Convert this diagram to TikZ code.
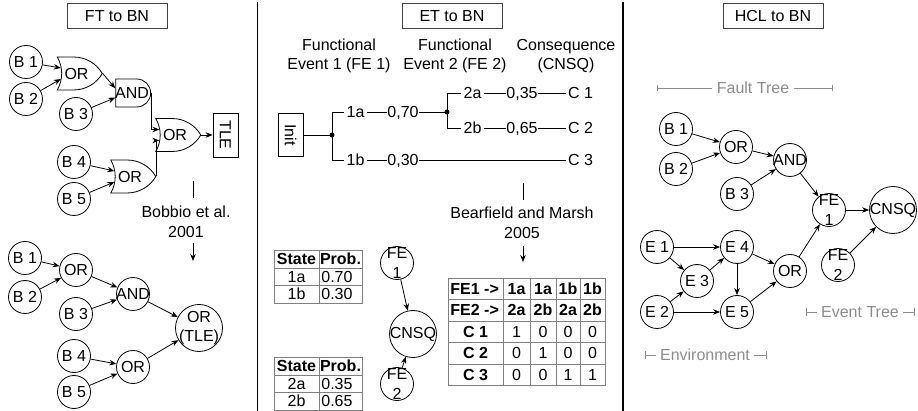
\documentclass[tikz,border=0pt]{standalone}
\usepackage{fontspec}
\setmainfont{Liberation Sans}
\usetikzlibrary{arrows.meta,shapes.gates.logic.US}
\newcommand\zw[1]{\makebox[0pt]{#1}}
\newcommand\mainsize{\fontsize{16}{19.5}\selectfont}
\begin{document}
\begin{tikzpicture}[x=1pt,y=-1pt,line width=0.8pt,
  font=\mainsize,
  arr/.style={-{Stealth[length=7pt,width=5.5pt]}},
  bn/.style={circle,draw,minimum size=33pt,inner sep=0pt},
  bnbig/.style={bn,minimum size=47pt},
  two/.style={align=center,inner sep=0pt,font=\mainsize},
  titlebox/.style={draw=black!75,minimum width=100pt,minimum height=25pt,inner sep=0pt},
  orgate/.style={or gate US,draw,logic gate inputs=nn,minimum width=45pt,minimum height=27pt,inner sep=0pt},
  andgate/.style={and gate US,draw,logic gate inputs=nn,minimum width=34pt,minimum height=28pt,inner sep=0pt},
  et/.style={inner xsep=2pt,inner ysep=0pt,text height=11pt,text depth=0pt},
  tb/.style={inner sep=0pt,text height=11pt,text depth=0pt},
  tbb/.style={tb,font=\mainsize\bfseries},
  tbl/.style={draw=black!50,line width=0.8pt},
  gr/.style={text=black!45,inner xsep=4pt,inner ysep=0pt,text height=11pt,text depth=0pt},
  grl/.style={draw=black!45,line width=0.8pt},
  dot/.style={circle,fill,inner sep=0pt,minimum size=5pt}]
\useasboundingbox (0,0) rectangle (918,411);

% separators
\coordinate (s1a) at (257.5,2); \coordinate (s1b) at (257.5,411);
\coordinate (s2a) at (623,2); \coordinate (s2b) at (623,411);
\draw[line width=1.2pt] (s1a) -- (s1b);
\draw[line width=1.2pt] (s2a) -- (s2b);

% titles
\node[titlebox] (t1) at (117,16) {FT to BN};
\node[titlebox] (t2) at (452,16) {ET to BN};
\node[titlebox] (t3) at (773,16) {HCL to BN};

% ---------------- FT panel (top)
\node[bn] (fb1) at (26,62) {B 1};
\node[bn] (fb2) at (26,99) {B 2};
\node[bn] (fb3) at (76,114) {B 3};
\node[bn] (fb4) at (74,162) {B 4};
\node[bn] (fb5) at (74,199) {B 5};
\node[orgate] (fo1) at (76.5,73.5) {\zw{OR}};
\node[andgate] (fand) at (132,93) {\zw{AND}};
\node[orgate] (fo2) at (175,135) {\zw{OR}};
\node[orgate] (fo3) at (130,176.5) {\zw{OR}};
\node[draw,rotate=-90,minimum width=44pt,minimum height=25pt,inner sep=0pt] (tle) at (225.5,135) {TLE};
\draw[arr] (fb1) -- (fo1.input 1);
\draw[arr] (fb2) -- (fo1.input 2);
\draw[arr] (fo1.output) -- (fand.input 1);
\draw[arr] (fb3) -- (fand.input 2);
\draw[arr] (fand.output) |- (fo2.input 1);
\draw[arr] (fo3.output) |- (fo2.input 2);
\draw[arr] (fo2.output) -- (tle);
\draw[arr] (fb4) -- (fo3.input 1);
\draw[arr] (fb5) -- (fo3.input 2);

% Bobbio
\node[two] (bob) at (186,222) {Bobbio et al.\\2001};
\coordinate (bt1) at (193,181); \coordinate (bt2) at (193,198);
\coordinate (ba1) at (193,243); \coordinate (ba2) at (193,261);
\draw (bt1) -- (bt2);
\draw[arr] (ba1) -- (ba2);

% ---------------- FT panel (bottom BN)
\node[bn] (gb1) at (25,258) {B 1};
\node[bn] (gb2) at (25,297) {B 2};
\node[bn] (gor1) at (76,270) {OR};
\node[bn] (gand) at (133,294) {\zw{AND}};
\node[bn] (gb3) at (76,314) {B 3};
\node[bnbig] (gtle) at (199,328) {};
\node[two] (gtlet) at (gtle) {OR\\(TLE)};
\node[bn] (gb4) at (74,356) {B 4};
\node[bn] (gor3) at (133,367) {OR};
\node[bn] (gb5) at (74,392) {B 5};
\draw[arr] (gb1) -- (gor1);
\draw[arr] (gb2) -- (gor1);
\draw[arr] (gor1) -- (gand);
\draw[arr] (gb3) -- (gand);
\draw[arr] (gand) -- (gtle);
\draw[arr] (gb4) -- (gor3);
\draw[arr] (gb5) -- (gor3);
\draw[arr] (gor3) -- (gtle);

% ---------------- ET panel
\node[two] (h1) at (339,56) {Functional\\Event 1 (FE 1)};
\node[two] (h2) at (455,56) {Functional\\Event 2 (FE 2)};
\node[two] (h3) at (566,56) {Consequence\\(CNSQ)};

\node[draw,rotate=-90,minimum width=43pt,minimum height=25pt,inner sep=0pt] (init) at (290.5,135) {Init};
\node[dot] (d1) at (332,135) {};
\node[et] (l1a) at (355.5,112) {1a};
\node[et,inner xsep=0.5pt] (p070) at (403,112) {0,70};
\node[dot] (d2) at (447,112) {};
\node[et] (l2a) at (472.5,93) {2a};
\node[et,inner xsep=0.5pt] (p035) at (522,93) {0,35};
\node[et] (c1) at (580.5,93) {C 1};
\node[et] (l2b) at (472.5,128) {2b};
\node[et,inner xsep=0.5pt] (p065) at (522,128) {0,65};
\node[et] (c2) at (580.5,128) {C 2};
\node[et] (l1b) at (355.5,160) {1b};
\node[et,inner xsep=0.5pt] (p030) at (403,160) {0,30};
\node[et] (c3) at (580.5,160) {C 3};
\draw (init) -- (d1.center);
\draw (d1.center) |- (l1a);
\draw (d1.center) |- (l1b);
\draw (l1a) -- (p070) -- (d2.center);
\draw (d2.center) |- (l2a);
\draw (d2.center) |- (l2b);
\draw (l2a) -- (p035) -- (c1);
\draw (l2b) -- (p065) -- (c2);
\draw (l1b) -- (p030) -- (c3);

% Bearfield
\node[two] (bear) at (522,223) {Bearfield and Marsh\\2005};
\coordinate (mt1) at (523,183); \coordinate (mt2) at (523,200);
\coordinate (ma1) at (523,246); \coordinate (ma2) at (523,262);
\draw (mt1) -- (mt2);
\draw[arr] (ma1) -- (ma2);

% table 1
\draw[tbl] (274,250.5) rectangle (362,303);
\draw[tbl] (274,268) -- (362,268);
\draw[tbl] (274,285.5) -- (362,285.5);
\draw[tbl] (319,250.5) -- (319,303);
\node[tbb] (ta1) at (296.5,259.25) {State};
\node[tbb] (ta2) at (340.5,259.25) {Prob.};
\node[tb] (ta3) at (296.5,276.75) {1a};
\node[tb,anchor=west] (ta4) at (321,276.75) {0.70};
\node[tb] (ta5) at (296.5,294.25) {1b};
\node[tb,anchor=west] (ta6) at (321,294.25) {0.30};

% table 2
\draw[tbl] (274,357.5) rectangle (362,410);
\draw[tbl] (274,375) -- (362,375);
\draw[tbl] (274,392.5) -- (362,392.5);
\draw[tbl] (319,357.5) -- (319,410);
\node[tbb] (tb1) at (296.5,366.25) {State};
\node[tbb] (tb2) at (340.5,366.25) {Prob.};
\node[tb] (tb3) at (296.5,383.75) {2a};
\node[tb,anchor=west] (tb4) at (321,383.75) {0.35};
\node[tb] (tb5) at (296.5,401.25) {2b};
\node[tb,anchor=west] (tb6) at (321,401.25) {0.65};

% ET BN
\node[bn] (efe1) at (397,263) {};
\node[two] (efe1t) at (efe1) {FE\\1};
\node[bnbig] (ecn) at (413,334) {\zw{CNSQ}};
\node[bn] (efe2) at (397,384) {};
\node[two] (efe2t) at (efe2) {FE\\2};
\draw[arr] (efe1) -- (ecn);
\draw[arr] (efe2) -- (ecn);

% big table
\draw[tbl] (448,278) rectangle (605,385.5);
\foreach \xx in {503,530,556,580} \draw[tbl] (\xx,278) -- (\xx,385.5);
\foreach \yy in {299.5,321,342.5,364} \draw[tbl] (448,\yy) -- (605,\yy);
\node[tbb,anchor=west] (r1) at (450,288.75) {FE1 ->};
\node[tbb,anchor=west] (r2) at (450,310.25) {FE2 ->};
\node[tbb] (r3) at (475.5,331.75) {C 1};
\node[tbb] (r4) at (475.5,353.25) {C 2};
\node[tbb] (r5) at (475.5,374.75) {C 3};
\foreach \t [count=\i] in {1a,1a,1b,1b} {
  \pgfmathsetmacro\cx{{516.5,543,568,592.5}[\i-1]}
  \node[tbb] (ha\i) at (\cx,288.75) {\t};}
\foreach \t [count=\i] in {2a,2b,2a,2b} {
  \pgfmathsetmacro\cx{{516.5,543,568,592.5}[\i-1]}
  \node[tbb] (hb\i) at (\cx,310.25) {\t};}
\foreach \a/\b/\c/\d [count=\r] in {1/0/0/0,0/1/0/0,0/0/1/1} {
  \pgfmathsetmacro\cy{{331.75,353.25,374.75}[\r-1]}
  \node[tb] (v\r a) at (516.5,\cy) {\a};
  \node[tb] (v\r b) at (543,\cy) {\b};
  \node[tb] (v\r c) at (568,\cy) {\c};
  \node[tb] (v\r d) at (592.5,\cy) {\d};}

% ---------------- HCL panel
\coordinate (ft1) at (657,88); \coordinate (ft2) at (833,88);
\node[gr] (ftl) at (753,88) {Fault Tree};
\draw[grl,{Bar[width=6pt]}-] (ft1) -- (ftl);
\draw[grl,-{Bar[width=6pt]}] (ftl) -- (ft2);
\coordinate (ev1) at (806,312); \coordinate (ev2) at (915,312);
\node[gr] (evl) at (860,312) {Event Tree};
\draw[grl,{Bar[width=8pt]}-] (ev1) -- (evl);
\draw[grl,-{Bar[width=8pt]}] (evl) -- (ev2);
\coordinate (en1) at (645,355); \coordinate (en2) at (767,355);
\node[gr] (enl) at (705,355) {Environment};
\draw[grl,{Bar[width=8pt]}-] (en1) -- (enl);
\draw[grl,-{Bar[width=8pt]}] (enl) -- (en2);

\node[bn] (hb1) at (676,129) {B 1};
\node[bn] (hb2) at (676,169) {B 2};
\node[bn] (hor) at (736,147) {OR};
\node[bn] (hand) at (790,160) {\zw{AND}};
\node[bn] (hb3) at (737,194) {B 3};
\node[bn] (hfe1) at (829,210) {};
\node[two] (hfe1t) at (hfe1) {FE\\1};
\node[bnbig] (hcn) at (893,210) {\zw{CNSQ}};
\node[bn] (he1) at (657,247) {E 1};
\node[bn] (he4) at (737,247) {E 4};
\node[bn] (he3) at (697,281) {E 3};
\node[bn] (he2) at (657,312) {E 2};
\node[bn] (he5) at (737,312) {E 5};
\node[bn] (hor2) at (790,271) {OR};
\node[bn] (hfe2) at (838,265) {};
\node[two] (hfe2t) at (hfe2) {FE\\2};
\draw[arr] (hb1) -- (hor);
\draw[arr] (hb2) -- (hor);
\draw[arr] (hor) -- (hand);
\draw[arr] (hb3) -- (hand);
\draw[arr] (hand) -- (hfe1);
\draw[arr] (hfe1) -- (hcn);
\draw[arr] (hfe2) -- (hcn);
\draw[arr] (he1) -- (he4);
\draw[arr] (he1) -- (he3);
\draw[arr] (he2) -- (he3);
\draw[arr] (he2) -- (he5);
\draw[arr] (he3) -- (he4);
\draw[arr] (he4) -- (he5);
\draw[arr] (he4) -- (hor2);
\draw[arr] (he5) -- (hor2);
\draw[arr] (hor2) -- (hfe1);
\end{tikzpicture}
\end{document}
